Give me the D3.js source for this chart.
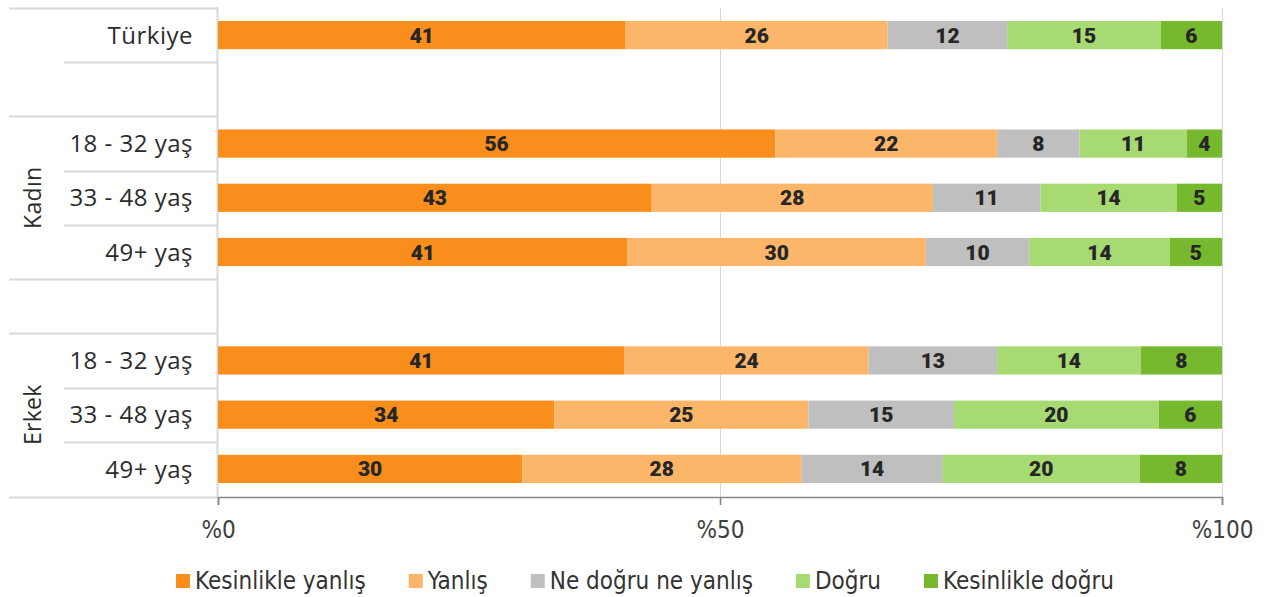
<!DOCTYPE html>
<html>
<head>
<meta charset="utf-8">
<script src="https://cdn.jsdelivr.net/npm/d3@7"></script>
<style>
  body { margin: 0; background: #fff; }
  .rowlab { font-family: "Open Sans", Roboto, sans-serif; font-size: 24px; letter-spacing: 0.5px; fill: #2b2b2b; }
  .grplab { font-family: "Open Sans", Roboto, sans-serif; font-size: 23px; letter-spacing: 0.3px; fill: #2b2b2b; }
  .barlab { font-family: Roboto, "DejaVu Sans", sans-serif; font-size: 21px; font-weight: 900; fill: #262626; }
  .axis text { font-family: "Liberation Sans Narrow", "DejaVu Sans Condensed", sans-serif; font-size: 24px; fill: #404040; }
  .leg { font-family: "Liberation Sans Narrow", "DejaVu Sans Condensed", sans-serif; font-size: 24px; fill: #333; }
</style>
</head>
<body>
<svg id="chart" width="1271" height="597"></svg>
<script>
// rows, top to bottom ("" = spacer row)
var rowKeys   = ["tr", "s1", "k1", "k2", "k3", "s2", "e1", "e2", "e3"];
var rowLabels = ["Türkiye", "", "18 - 32 yaş", "33 - 48 yaş", "49+ yaş", "", "18 - 32 yaş", "33 - 48 yaş", "49+ yaş"];
var groups = [
  { label: "Kadın", rows: ["k1", "k3"] },
  { label: "Erkek", rows: ["e1", "e3"] }
];

var seriesNames  = ["Kesinlikle yanlış", "Yanlış", "Ne doğru ne yanlış", "Doğru", "Kesinlikle doğru"];
var seriesColors = ["#F98E1D", "#FBB66A", "#BFBFBF", "#A8DA74", "#76B82E"];

// share per data row (tr, k1, k2, k3, e1, e2, e3)
var dataRows          = ["tr", "k1", "k2", "k3", "e1", "e2", "e3"];
var kesinlikleYanlis  = [40.6, 55.5, 43.2, 40.8, 40.5, 33.5, 30.3];
var yanlis            = [26.1, 22.1, 28.0, 29.7, 24.3, 25.3, 27.8];
var neDogruNeYanlis   = [11.9,  8.2, 10.7, 10.3, 12.8, 14.5, 14.1];
var dogru             = [15.3, 10.7, 13.6, 14.0, 14.3, 20.4, 19.6];
var kesinlikleDogru   = [ 6.1,  3.5,  4.5,  5.2,  8.1,  6.3,  8.2];

var xTicks = [0, 50, 100];

var seriesValues = [kesinlikleYanlis, yanlis, neDogruNeYanlis, dogru, kesinlikleDogru];
var table = dataRows.map(function (r, i) {
  var o = { row: r };
  seriesNames.forEach(function (s, j) { o[s] = seriesValues[j][i]; });
  return o;
});

var svg = d3.select("#chart");

var x = d3.scaleLinear().domain([0, 100]).range([218, 1222]);
var y = d3.scaleBand().domain(rowKeys).range([8, 496]).paddingInner(0.48).paddingOuter(0.24);
var step = y.step();
var color = d3.scaleOrdinal().domain(seriesNames).range(seriesColors);

// gridlines
svg.append("g").selectAll("line")
  .data([50, 100])
  .enter().append("line")
  .attr("x1", function (d) { return x(d) + 0.5; })
  .attr("x2", function (d) { return x(d) + 0.5; })
  .attr("y1", 8).attr("y2", 497)
  .attr("stroke", "#D9D9D9").attr("stroke-width", 1);

// category table lines (full width above each group, indented inside groups)
var fullRows = ["tr", "k1", "s2", "e1"];
var rowTop = function (k) { return y(k) - (step - y.bandwidth()) / 2; };
var hLines = rowKeys.map(function (k) {
  return { y: Math.round(rowTop(k)) + 0.5, x1: fullRows.indexOf(k) >= 0 ? 9 : 64 };
});
hLines.push({ y: 497.5, x1: 9 });
svg.append("g").selectAll("line")
  .data(hLines)
  .enter().append("line")
  .attr("x1", function (d) { return d.x1; })
  .attr("x2", 217)
  .attr("y1", function (d) { return d.y; })
  .attr("y2", function (d) { return d.y; })
  .attr("stroke", "#D9D9D9").attr("stroke-width", 2);

svg.append("line")
  .attr("x1", 217.5).attr("x2", 217.5).attr("y1", 7).attr("y2", 498)
  .attr("stroke", "#D9D9D9").attr("stroke-width", 2);

// bars
var stacked = d3.stack().keys(seriesNames)(table);
var layer = svg.append("g").selectAll("g")
  .data(stacked)
  .enter().append("g")
  .attr("fill", function (d) { return color(d.key); });

layer.selectAll("rect")
  .data(function (d) { return d; })
  .enter().append("rect")
  .attr("x", function (d) { return x(d[0]); })
  .attr("width", function (d) { return x(d[1]) - x(d[0]); })
  .attr("y", function (d) { return y(d.data.row); })
  .attr("height", y.bandwidth());

layer.selectAll("text")
  .data(function (d) { return d; })
  .enter().append("text")
  .attr("class", "barlab")
  .attr("x", function (d) { return (x(d[0]) + x(d[1])) / 2; })
  .attr("y", function (d) { return y(d.data.row) + y.bandwidth() / 2; })
  .attr("dy", "0.36em")
  .attr("text-anchor", "middle")
  .text(function (d) { return Math.round(d[1] - d[0]); });

// row labels
svg.append("g").selectAll("text")
  .data(rowKeys)
  .enter().append("text")
  .attr("class", "rowlab")
  .attr("x", 193)
  .attr("y", function (d) { return y(d) + y.bandwidth() / 2; })
  .attr("dy", "0.36em")
  .attr("text-anchor", "end")
  .text(function (d, i) { return rowLabels[i]; });

// group labels
svg.append("g").selectAll("text")
  .data(groups)
  .enter().append("text")
  .attr("class", "grplab")
  .attr("transform", function (d) {
    var cy = (y(d.rows[0]) + y(d.rows[1]) + y.bandwidth()) / 2;
    return "translate(41," + cy + ") rotate(-90)";
  })
  .attr("text-anchor", "middle")
  .text(function (d) { return d.label; });

// x axis
var xAxis = d3.axisBottom(x).tickValues(xTicks).tickSize(8).tickPadding(16)
  .tickFormat(function (d) { return "%" + d; });
var ax = svg.append("g")
  .attr("class", "axis")
  .attr("transform", "translate(0,497)")
  .call(xAxis);
ax.select(".domain").attr("stroke", "#868686").attr("stroke-width", 1.5);
ax.selectAll(".tick line").attr("stroke", "#868686").attr("stroke-width", 1.5);

// legend
var legend = svg.append("g").attr("transform", "translate(0,581)");
var items = legend.selectAll("g")
  .data(seriesNames)
  .enter().append("g");
items.append("rect")
  .attr("width", 14).attr("height", 14)
  .attr("y", -7)
  .attr("fill", function (d) { return color(d); });
items.append("text")
  .attr("class", "leg")
  .attr("x", 19)
  .attr("dy", "0.35em")
  .text(function (d) { return d; });

var widths = [];
items.each(function () { widths.push(19 + d3.select(this).select("text").node().getComputedTextLength()); });
var gap = 43;
var total = d3.sum(widths) + gap * (widths.length - 1);
var cx = 645 - total / 2;
items.attr("transform", function (d, i) {
  var pos = cx;
  cx += widths[i] + gap;
  return "translate(" + pos + ",0)";
});
</script>
</body>
</html>
